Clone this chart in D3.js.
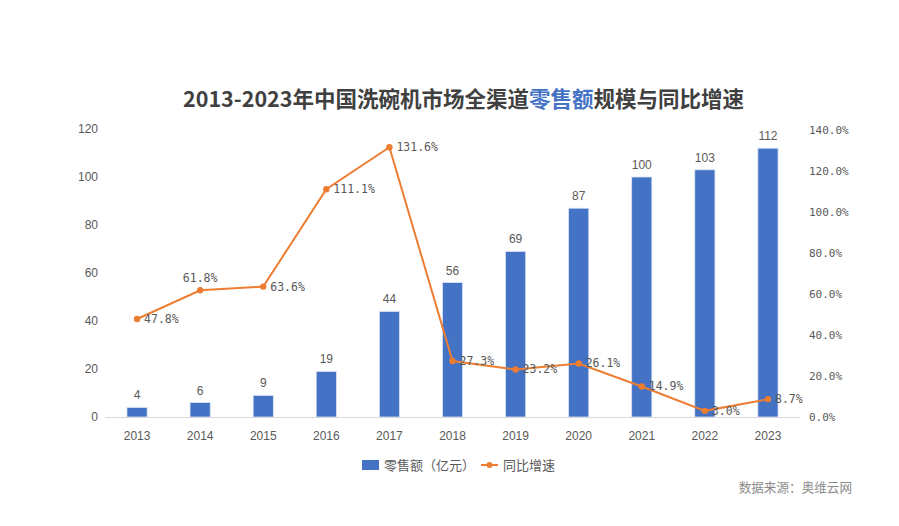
<!DOCTYPE html>
<html><head><meta charset="utf-8">
<script src="https://cdn.jsdelivr.net/npm/d3@7/dist/d3.min.js"></script>
<style>body{margin:0;background:#fff;}svg{display:block;}</style>
</head><body>
<svg id="c" width="899" height="526"></svg>
<script>
const years = ["2013","2014","2015","2016","2017","2018","2019","2020","2021","2022","2023"];
const sales = [4, 6, 9, 19, 44, 56, 69, 87, 100, 103, 112];
const growth = [47.8, 61.8, 63.6, 111.1, 131.6, 27.3, 23.2, 26.1, 14.9, 3.0, 8.7];
const leftTicks = [0, 20, 40, 60, 80, 100, 120];
const rightTicks = [0, 20, 40, 60, 80, 100, 120, 140];
const labelAbove = [false, true, false, false, false, false, false, false, false, false, false];

const svg = d3.select("#c");
const blue = "#4472C4", orange = "#ED7D31", txt = "#595959";
const monoFont = "'DejaVu Sans Mono', monospace";
const sansFont = "'Liberation Sans', Arial, sans-serif";
const cjk = "'Noto Sans CJK SC', sans-serif";

const x = d3.scaleBand().domain(years).range([105.5, 799.5]).paddingInner(0.68).paddingOuter(0.34);
const yL = d3.scaleLinear().domain([0, 120]).range([417, 129]);
const yR = d3.scaleLinear().domain([0, 140]).range([417, 130]);

// title
const title = svg.append("text").attr("x", 463.5).attr("y", 107).attr("text-anchor", "middle")
  .attr("font-family", cjk).attr("font-size", 21.5).attr("font-weight", "bold").attr("fill", "#404040");
title.append("tspan").text("2013-2023年中国洗碗机市场全渠道");
title.append("tspan").attr("fill", blue).text("零售额");
title.append("tspan").text("规模与同比增速");

// left axis
const axL = svg.append("g").attr("transform", "translate(98,0)")
  .call(d3.axisLeft(yL).tickValues(leftTicks).tickSize(0).tickPadding(0));
axL.select(".domain").remove();
axL.selectAll("text").attr("font-family", sansFont).attr("font-size", 12).attr("fill", txt);

// right axis
const axR = svg.append("g").attr("transform", "translate(809,0)")
  .call(d3.axisRight(yR).tickValues(rightTicks).tickSize(0).tickPadding(0).tickFormat(d => d3.format(".1f")(d) + "%"));
axR.select(".domain").remove();
axR.selectAll("text").attr("font-family", monoFont).attr("font-size", 11).attr("fill", txt);

// bars
svg.append("g").selectAll("rect").data(sales).join("rect")
  .attr("x", (d, i) => x(years[i])).attr("width", x.bandwidth())
  .attr("y", d => yL(d)).attr("height", d => yL(0) - yL(d))
  .attr("fill", blue).attr("stroke", "#dbe4f3").attr("stroke-width", 0.8);

// baseline
svg.append("line").attr("x1", 105).attr("x2", 800).attr("y1", yL(0) + 0.5).attr("y2", yL(0) + 0.5)
  .attr("stroke", "#d9d9d9").attr("stroke-width", 1);

// x axis
const axX = svg.append("g").attr("transform", `translate(0,${yL(0)})`)
  .call(d3.axisBottom(x).tickSize(0).tickPadding(14));
axX.select(".domain").remove();
axX.selectAll("text").attr("font-family", sansFont).attr("font-size", 12).attr("fill", txt);

// bar labels
svg.append("g").selectAll("text").data(sales).join("text")
  .attr("x", (d, i) => x(years[i]) + x.bandwidth() / 2).attr("y", d => yL(d) - 8)
  .attr("text-anchor", "middle").attr("font-family", sansFont).attr("font-size", 12).attr("fill", txt)
  .text(d => d);

// line
const cx = i => x(years[i]) + x.bandwidth() / 2;
svg.append("path").datum(growth)
  .attr("d", d3.line().x((d, i) => cx(i)).y(d => yR(d)))
  .attr("fill", "none").attr("stroke", orange).attr("stroke-width", 2);
svg.append("g").selectAll("circle").data(growth).join("circle")
  .attr("cx", (d, i) => cx(i)).attr("cy", d => yR(d)).attr("r", 3.2).attr("fill", orange);

// line labels
svg.append("g").selectAll("text").data(growth).join("text")
  .attr("x", (d, i) => labelAbove[i] ? cx(i) : cx(i) + 7)
  .attr("y", (d, i) => labelAbove[i] ? yR(d) - 8 : yR(d) + 4)
  .attr("text-anchor", (d, i) => labelAbove[i] ? "middle" : "start")
  .attr("font-family", monoFont).attr("font-size", 11.5).attr("fill", txt)
  .text(d => d3.format(".1f")(d) + "%");

// legend
const lg = svg.append("g");
lg.append("rect").attr("x", 362).attr("y", 460).attr("width", 17).attr("height", 10).attr("fill", blue);
lg.append("text").attr("x", 384).attr("y", 470).attr("font-family", cjk).attr("font-size", 13).attr("fill", txt).text("零售额（亿元）");
lg.append("line").attr("x1", 481).attr("x2", 498).attr("y1", 465).attr("y2", 465).attr("stroke", orange).attr("stroke-width", 2);
lg.append("circle").attr("cx", 489.5).attr("cy", 465).attr("r", 3).attr("fill", orange);
lg.append("text").attr("x", 503).attr("y", 470).attr("font-family", cjk).attr("font-size", 13).attr("fill", txt).text("同比增速");

// source
svg.append("text").attr("x", 852).attr("y", 492).attr("text-anchor", "end")
  .attr("font-family", cjk).attr("font-size", 12.6).attr("fill", "#8c8c8c").text("数据来源：奥维云网");
</script>
</body></html>
